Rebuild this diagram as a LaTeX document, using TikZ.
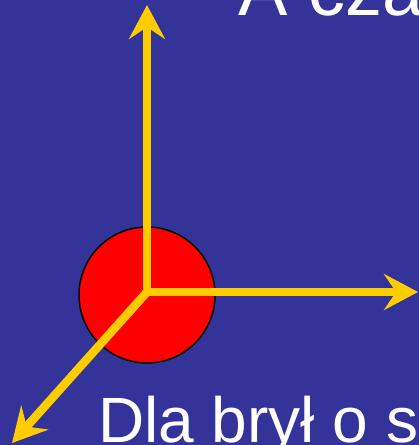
\documentclass[tikz,border=0pt]{standalone}
\usepackage{fontspec}
\setmainfont{Liberation Sans}
\usetikzlibrary{arrows.meta}
\definecolor{slideblue}{RGB}{51, 51, 153}
\definecolor{axisyellow}{RGB}{255, 204, 0}
\definecolor{ballred}{RGB}{255, 0, 0}

\begin{document}
\begin{tikzpicture}[x=1pt, y=-1pt,
    ball/.style={circle, draw=black, line width=1.5pt, fill=ballred,
                inner sep=0pt, minimum size=136pt},
    title/.style={anchor=base west, inner sep=0pt, text=white,
                 font=\fontsize{74}{80}\selectfont},
    caption/.style={anchor=base west, inner sep=0pt, text=white,
                   font=\fontsize{64}{70}\selectfont},
    axisline/.style={line width=8.5pt, draw=axisyellow, line join=round,
                    arrows={-Stealth[length=34pt, width=36pt, inset=12pt]}}
]
    % Tlo
    \fill[slideblue] (0,0) rectangle (419,445);
    \useasboundingbox (0,0) rectangle (419,445);

    % Kula
    \node[ball] (ball) at (147,295) {};

    % Osie
    \coordinate (o) at (147,292);
    \coordinate (up) at (147,5);
    \coordinate (right) at (418,292);
    \coordinate (diag) at (12,443);
    \draw[axisline] (o) -- (up);
    \draw[axisline] (o) -- (right);
    \draw[axisline] (o) -- (diag);

    % Teksty
    \node[title] (head) at (238,15) {A cza};
    \node[caption] (foot) at (98,442) {Dla brył o s};
\end{tikzpicture}
\end{document}
